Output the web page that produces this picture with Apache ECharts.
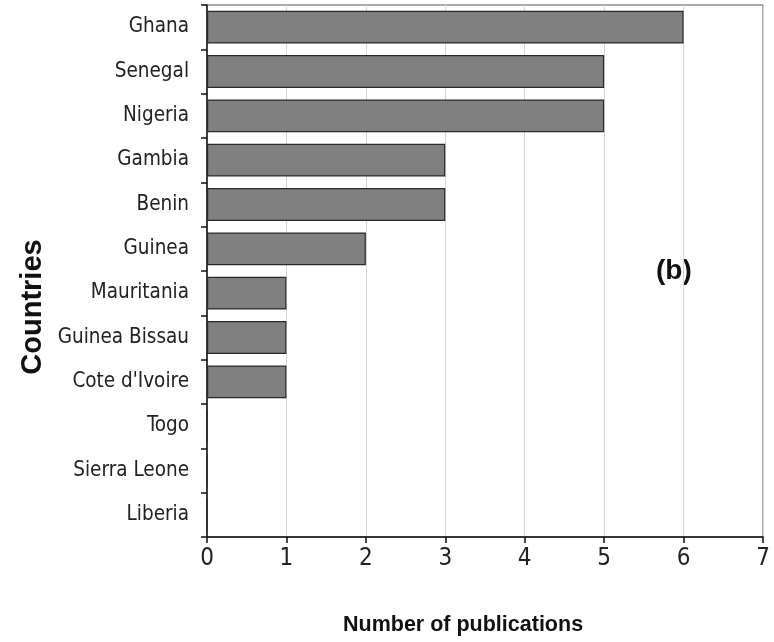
<!DOCTYPE html>
<html>
<head>
<meta charset="utf-8">
<script src="https://cdn.jsdelivr.net/npm/echarts@6/dist/echarts.min.js"></script>
<style>
  html, body { margin: 0; padding: 0; background: #fff; }
  #chart { width: 774px; height: 642px; }
</style>
</head>
<body>
<div id="chart"></div>
<script>
const countries = ["Ghana", "Senegal", "Nigeria", "Gambia", "Benin", "Guinea", "Mauritania",
  "Guinea Bissau", "Cote d'Ivoire", "Togo", "Sierra Leone", "Liberia"];
const publications = [6, 5, 5, 3, 3, 2, 1, 1, 1, 0, 0, 0];
const xTicks = { min: 0, max: 7, interval: 1 };

const narrow = "'Liberation Sans Narrow', 'Arial Narrow', 'DejaVu Sans Condensed', sans-serif";
const bold = "'Liberation Sans', Arial, sans-serif";

const chart = echarts.init(document.getElementById("chart"));

const option = {
  backgroundColor: "#fff",
  animation: false,
  grid: {
    left: 207, top: 5, right: 11, bottom: 105,
    containLabel: false,
    outerBoundsMode: "none",
    show: true, borderColor: "#555", borderWidth: 1,
  },
  xAxis: {
    type: "value",
    min: xTicks.min, max: xTicks.max, interval: xTicks.interval,
    axisLine: { show: true, lineStyle: { color: "#111", width: 1.5 } },
    axisTick: { show: true, length: 6, lineStyle: { color: "#111", width: 1.5 } },
    axisLabel: { color: "#222", fontFamily: narrow, fontSize: 24, margin: 10 },
    splitLine: { show: true, lineStyle: { color: "#d6d6d6", width: 1 } },
  },
  yAxis: {
    type: "category",
    data: countries,
    inverse: true,
    axisLine: { show: true, lineStyle: { color: "#111", width: 1.5 } },
    axisTick: { show: true, length: 6, lineStyle: { color: "#111", width: 1.5 } },
    axisLabel: { color: "#222", fontFamily: narrow, fontSize: 20.5, margin: 18 },
    splitLine: { show: false },
  },
  graphic: [
    {
      // y-axis title sits a bit below the plot's middle in the original
      type: "text",
      x: 33, y: 307,
      rotation: Math.PI / 2,
      style: {
        text: "Countries", fontFamily: bold, fontWeight: "bold", fontSize: 29, fill: "#111",
        align: "center", verticalAlign: "middle",
      },
    },
    {
      type: "text",
      left: 343, top: 614,
      style: { text: "Number of publications", fontFamily: bold, fontWeight: "bold", fontSize: 21.5, fill: "#111" },
    },
    {
      type: "text",
      left: 656, top: 257,
      style: { text: "(b)", fontFamily: bold, fontWeight: "bold", fontSize: 28, fill: "#111" },
    },
  ],
  series: [
    {
      type: "bar",
      data: publications,
      barWidth: "74%",
      itemStyle: { color: "#808080", borderColor: "#2a2a2a", borderWidth: 1.2 },
    },
  ],
};

chart.setOption(option);
</script>
</body>
</html>
